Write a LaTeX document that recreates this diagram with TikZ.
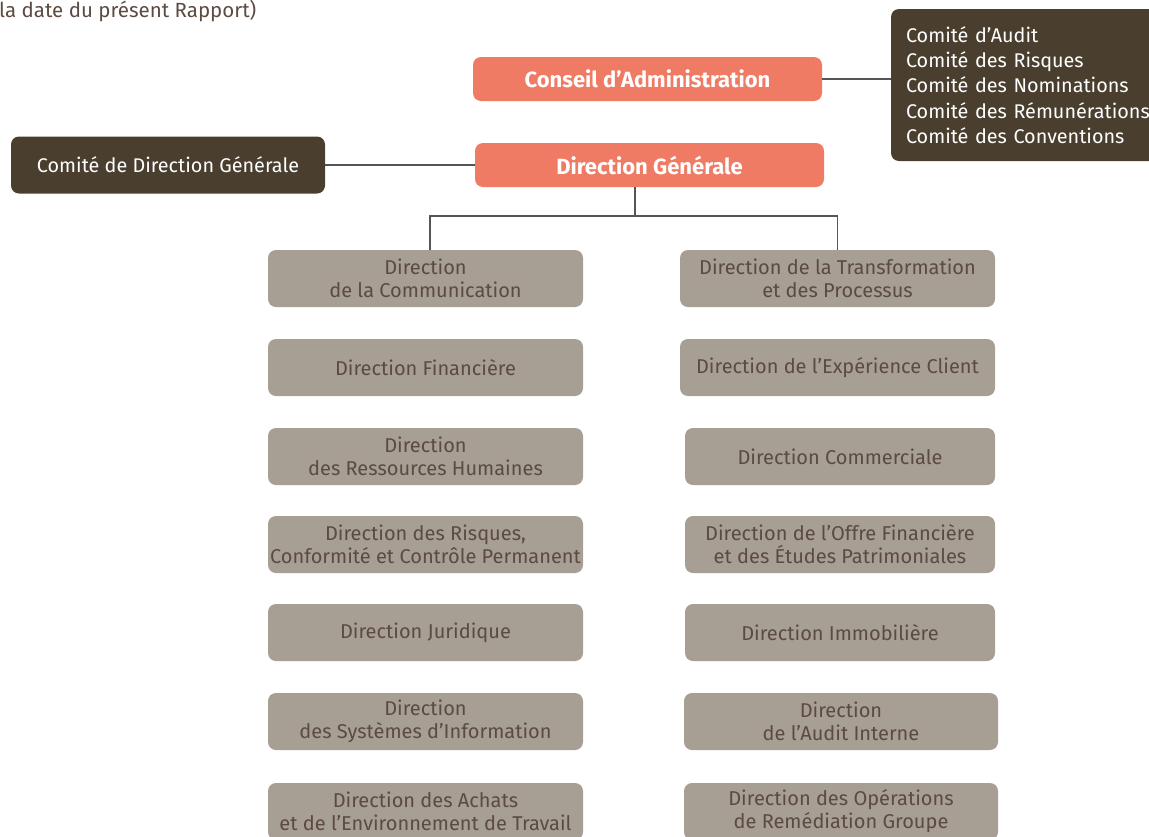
\documentclass[tikz,border=0pt]{standalone}
\usepackage{fontspec}
\setmainfont{Fira Sans}
\usetikzlibrary{positioning}

\definecolor{saumon}{HTML}{F07B64}
\definecolor{brun}{HTML}{4A3F2F}
\definecolor{taupe}{HTML}{A79E94}
\definecolor{textebrun}{HTML}{5B4B42}
\definecolor{trait}{HTML}{555555}

\tikzset{
  conseil/.style={fill=saumon, rounded corners=8pt, minimum width=349pt, minimum height=44pt,
    text=white, font=\fontsize{22}{24}\selectfont\bfseries},
  comite/.style={fill=brun, rounded corners=8pt, text=white, font=\fontsize{19.8}{25.3}\selectfont},
  direction/.style={fill=taupe, rounded corners=8pt, minimum height=57pt, align=center, inner xsep=2pt,
    text=textebrun, font=\fontsize{20}{23}\selectfont},
  lien/.style={draw=trait, line width=1.1pt}
}

\begin{document}
\begin{tikzpicture}[x=1pt,y=-1pt]
  % cadre de la page
  \useasboundingbox (0,0) rectangle (1149,836);

  % titre coupe en haut a gauche
  \node[anchor=base west, inner sep=0pt, text=textebrun, font=\fontsize{20.5}{22}\selectfont] (titre) at (-1,17) {la date du présent Rapport)};

  % organes de gouvernance
  \node[conseil] (ca) at (647.5,79) {Conseil d’Administration};
  \node[conseil] (dg) at (649.5,165) {Direction Générale};
  \node[comite, minimum width=314pt, minimum height=57pt] (codir) at (168,165) {Comité de Direction Générale};
  \node[comite, minimum width=280pt, minimum height=152pt, text width=250pt, inner xsep=15pt, align=left] (comites) at (1031,85)
    {Comité d’Audit\\Comité des Risques\\Comité des Nominations\\Comité des Rémunérations\\Comité des Conventions};

  % directions, colonne de gauche
  \foreach \nom/\y/\txt in {
      g1/278.5/{Direction\\de la Communication},
      g2/367.5/{Direction Financière},
      g3/456.5/{Direction\\des Ressources Humaines},
      g4/544.5/{Direction des Risques,\\Conformité et Contrôle Permanent},
      g5/632.5/{Direction Juridique},
      g6/721.5/{Direction\\des Systèmes d’Information},
      g7/811.5/{Direction des Achats\\et de l’Environnement de Travail}}{
    \node[direction, minimum width=315pt] (\nom) at (425.5,\y) {\txt};
  }

  % directions, colonne de droite
  \foreach \nom/\x/\y/\w/\txt in {
      d1/837.5/278.5/315/{Direction de la Transformation\\et des Processus},
      d2/837.5/367.5/315/{Direction de l’Expérience Client},
      d3/840/456.5/310/{Direction Commerciale},
      d4/840/544.5/310/{Direction de l’Offre Financière\\et des Études Patrimoniales},
      d5/840/632.5/310/{Direction Immobilière},
      d6/841/721.5/314/{Direction\\de l’Audit Interne},
      d7/841/811.5/314/{Direction des Opérations\\de Remédiation Groupe}}{
    \node[direction, minimum width=\w pt] (\nom) at (\x,\y) {\txt};
  }

  % liaisons
  \coordinate (fourche) at (635,216);
  \draw[lien] (ca.east) -- (ca.east -| comites.west);
  \draw[lien] (codir.east) -- (dg.west);
  \draw[lien] (dg.south -| fourche) -- (fourche);
  \draw[lien] (g1.north -| 430,0) |- (fourche) -| (d1.north);
\end{tikzpicture}
\end{document}
